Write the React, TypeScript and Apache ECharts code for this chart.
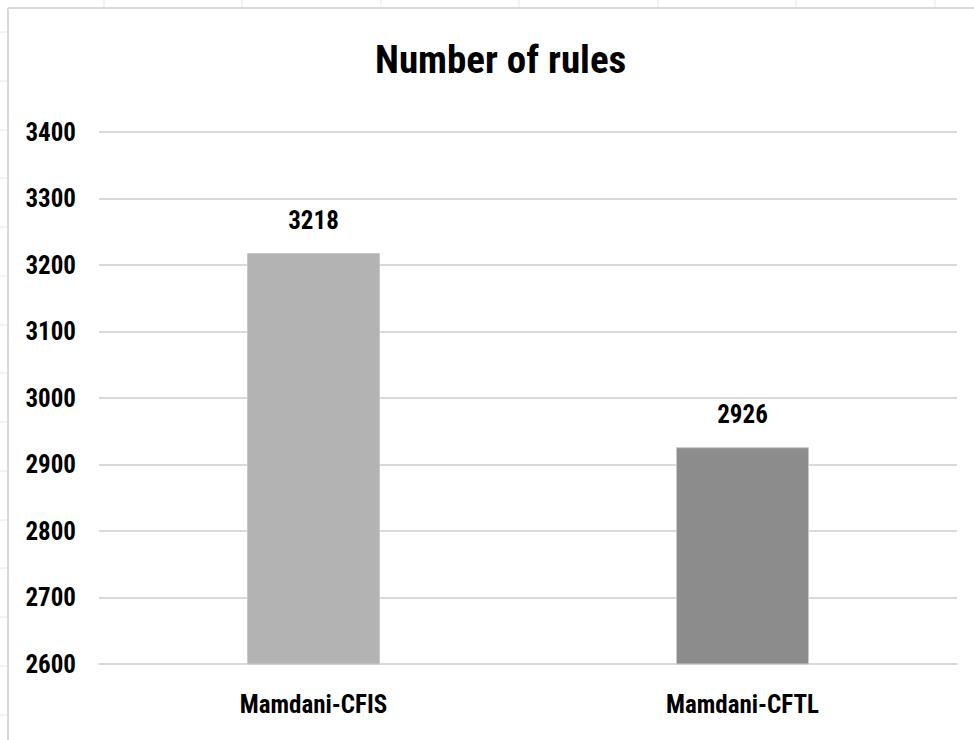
import React, { useEffect, useRef } from "react";
import * as echarts from "echarts";

const categories = ["Mamdani-CFIS", "Mamdani-CFTL"];
const values = [3218, 2926];
const barColors = ["#b3b3b3", "#8c8c8c"];
const yMin = 2600;
const yMax = 3400;
const yStep = 100;
const colTicks = [104, 242, 381, 519, 658, 796, 935];
const rowTicks = [32, 81, 130, 178, 227, 276, 325, 373, 422, 471, 520, 568, 617, 666, 715];

const FONT = "'Roboto Condensed', 'Open Sans Condensed', sans-serif";

export default function App() {
  const ref = useRef<HTMLDivElement>(null);
  useEffect(() => {
    document.body.style.margin = "0";
    const chart = echarts.init(ref.current!, null, { renderer: "svg" });
    const graphics: any[] = [
      { type: "line", shape: { x1: 8, y1: 8, x2: 974, y2: 8 }, style: { stroke: "#d9d9d9", lineWidth: 2 } },
      { type: "line", shape: { x1: 8, y1: 8, x2: 8, y2: 740 }, style: { stroke: "#d9d9d9", lineWidth: 2 } },
    ];
    colTicks.forEach((x) =>
      graphics.push({ type: "line", shape: { x1: x, y1: 0, x2: x, y2: 7 }, style: { stroke: "#e6e6e6", lineWidth: 1 } })
    );
    rowTicks.forEach((y) =>
      graphics.push({ type: "line", shape: { x1: 0, y1: y, x2: 7, y2: y }, style: { stroke: "#e6e6e6", lineWidth: 1 } })
    );
    chart.setOption({
      animation: false,
      backgroundColor: "#ffffff",
      title: {
        text: "Number of rules",
        left: 370,
        top: 35,
        textStyle: { fontFamily: FONT, fontSize: 39, fontWeight: "bold", color: "#000" },
      },
      grid: { left: 99, right: 17, top: 132, bottom: 76, containLabel: false },
      xAxis: {
        type: "category",
        data: categories,
        axisLine: { show: true, lineStyle: { color: "#d9d9d9", width: 2 } },
        axisTick: { show: false },
        axisLabel: { margin: 28, fontFamily: FONT, fontSize: 25, fontWeight: "bold", color: "#000" },
      },
      yAxis: {
        type: "value",
        min: yMin,
        max: yMax,
        interval: yStep,
        axisLine: { show: false },
        axisTick: { show: false },
        axisLabel: { margin: 23, fontFamily: FONT, fontSize: 25, fontWeight: "bold", color: "#000", formatter: (v: number) => String(v) },
        splitLine: { lineStyle: { color: "#d9d9d9", width: 2 } },
      },
      series: [
        {
          type: "bar",
          barWidth: "31%",
          data: values.map((v, i) => ({ value: v, itemStyle: { color: barColors[i], borderColor: "#c8c8c8", borderWidth: 1 } })),
          label: {
            show: true,
            position: "top",
            distance: 20,
            fontFamily: FONT,
            fontSize: 25,
            fontWeight: "bold",
            color: "#000",
          },
        },
      ],
      graphic: graphics,
    });
    return () => chart.dispose();
  }, []);
  return <div ref={ref} style={{ width: 974, height: 740 }} />;
}
